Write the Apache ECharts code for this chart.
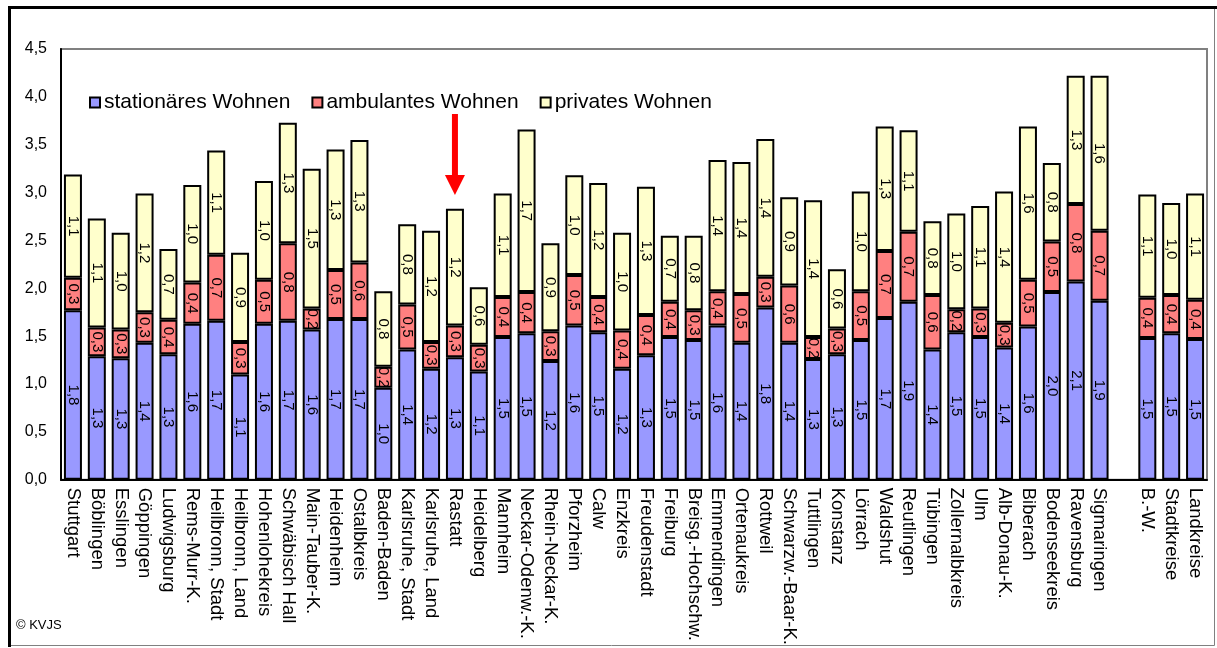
<!DOCTYPE html>
<html>
<head>
<meta charset="utf-8">
<script src="https://cdn.jsdelivr.net/npm/echarts@6/dist/echarts.min.js"></script>
<style>
html,body{margin:0;padding:0;background:#fff;}
#c{width:1217px;height:648px;}
</style>
</head>
<body>
<div id="c"></div>
<script>
const categories = ['Stuttgart','Böblingen','Esslingen','Göppingen','Ludwigsburg','Rems-Murr-K.','Heilbronn, Stadt','Heilbronn, Land','Hohenlohekreis','Schwäbisch Hall','Main-Tauber-K.','Heidenheim','Ostalbkreis','Baden-Baden','Karlsruhe, Stadt','Karlsruhe, Land','Rastatt','Heidelberg','Mannheim','Neckar-Odenw.-K.','Rhein-Neckar-K.','Pforzheim','Calw','Enzkreis','Freudenstadt','Freiburg','Breisg.-Hochschw.','Emmendingen','Ortenaukreis','Rottweil','Schwarzw.-Baar-K.','Tuttlingen','Konstanz','Lörrach','Waldshut','Reutlingen','Tübingen','Zollernalbkreis','Ulm','Alb-Donau-K.','Biberach','Bodenseekreis','Ravensburg','Sigmaringen','','B.-W.','Stadtkreise','Landkreise'];
const seriesNames = ['stationäres Wohnen','ambulantes Wohnen','privates Wohnen'];
const stationaer = [1.77,1.29,1.27,1.43,1.31,1.63,1.66,1.10,1.63,1.66,1.57,1.68,1.68,0.96,1.36,1.16,1.28,1.13,1.49,1.53,1.24,1.61,1.54,1.16,1.30,1.49,1.46,1.61,1.43,1.80,1.43,1.26,1.31,1.46,1.69,1.86,1.36,1.54,1.49,1.38,1.60,1.96,2.07,1.87,null,1.48,1.53,1.47];
const ambulant = [0.34,0.30,0.30,0.32,0.36,0.43,0.69,0.34,0.46,0.81,0.22,0.51,0.59,0.22,0.47,0.28,0.33,0.28,0.42,0.43,0.31,0.53,0.37,0.40,0.42,0.37,0.31,0.36,0.51,0.32,0.60,0.23,0.27,0.51,0.70,0.73,0.57,0.24,0.30,0.26,0.49,0.53,0.81,0.73,null,0.42,0.40,0.41];
const privat = [1.08,1.14,1.01,1.24,0.74,1.02,1.09,0.93,1.03,1.26,1.46,1.26,1.28,0.79,0.84,1.16,1.22,0.60,1.08,1.70,0.92,1.04,1.19,1.02,1.34,0.69,0.78,1.37,1.38,1.44,0.92,1.43,0.62,1.04,1.30,1.06,0.77,1.00,1.07,1.37,1.60,0.82,1.34,1.62,null,1.08,0.96,1.11];
const markedCategory = 'Rastatt';
const colors = ['#9999FF','#FF8080','#FFFFCC'];

const FONT = 'Liberation Sans, Arial, sans-serif';
const fmt = v => (v == null ? '' : v.toFixed(1).replace('.', ','));

function mkSeries(name, data, color) {
  return {
    name: name,
    type: 'bar',
    stack: 'total',
    data: data,
    barWidth: 18,
    itemStyle: { color: color, borderColor: '#000', borderWidth: 2 },
    label: {
      show: true,
      position: 'inside',
      rotate: -90,
      color: '#000',
      fontFamily: FONT,
      fontSize: 15,
      formatter: p => fmt(p.value)
    },
    emphasis: { disabled: true }
  };
}

const chart = echarts.init(document.getElementById('c'));
chart.setOption({
  animation: false,
  backgroundColor: '#fff',
  grid: { left: 61, top: 49, right: 10, bottom: 168, show: true, borderColor: '#808080', borderWidth: 2, backgroundColor: 'transparent' },
  legend: {
    left: 84, top: 87,
    icon: 'rect', itemWidth: 10, itemHeight: 10, itemGap: 21,
    textStyle: { fontFamily: FONT, fontSize: 21, color: '#000', padding: [0,0,0,-1] },
    data: seriesNames
  },
  xAxis: {
    type: 'category',
    data: categories,
    axisLine: { lineStyle: { color: '#000', width: 2 } },
    axisTick: { show: false },
    axisLabel: { interval: 0, rotate: -90, fontFamily: FONT, fontSize: 18.5, color: '#000', margin: 8 }
  },
  yAxis: {
    type: 'value',
    min: 0, max: 4.5, interval: 0.5,
    axisLine: { show: true, lineStyle: { color: '#000', width: 2 } },
    axisTick: { show: false },
    splitLine: { show: false },
    axisLabel: { fontFamily: FONT, fontSize: 16, color: '#000', margin: 14, formatter: v => v.toFixed(1).replace('.', ',') }
  },
  series: [
    mkSeries(seriesNames[0], stationaer, colors[0]),
    mkSeries(seriesNames[1], ambulant, colors[1]),
    mkSeries(seriesNames[2], privat, colors[2])
  ]
});

const ax = chart.convertToPixel({ xAxisIndex: 0 }, markedCategory);
chart.setOption({
  graphic: [
    { type: 'rect', shape: { x: 8.5, y: 8.5, width: 1206, height: 637 }, style: { fill: 'none', stroke: '#808080', lineWidth: 1 }, silent: true },
    { type: 'line', shape: { x1: 8, y1: 7.5, x2: 1217, y2: 7.5 }, style: { stroke: '#000', lineWidth: 3 }, silent: true },
    { type: 'line', shape: { x1: 9.5, y1: 6, x2: 9.5, y2: 647 }, style: { stroke: '#000', lineWidth: 3 }, silent: true },
    { type: 'rect', shape: { x: ax - 3, y: 114, width: 6, height: 63 }, style: { fill: '#FF0000' }, silent: true },
    { type: 'polygon', shape: { points: [[ax - 10, 175], [ax + 10, 175], [ax, 195]] }, style: { fill: '#FF0000' }, silent: true },
    { type: 'text', left: 16, top: 619, style: { text: '© KVJS', fontFamily: FONT, fontSize: 13, fill: '#000' }, silent: true }
  ]
});
</script>
</body>
</html>
